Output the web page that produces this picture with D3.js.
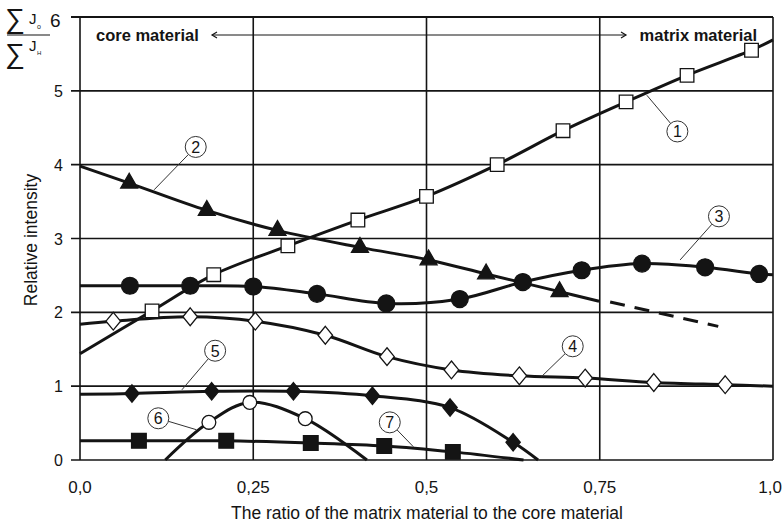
<!DOCTYPE html>
<html>
<head>
<meta charset="utf-8">
<script src="https://cdn.jsdelivr.net/npm/d3@7"></script>
<style>
  html, body { margin: 0; padding: 0; background: #fff; }
  svg { display: block; font-family: "Liberation Sans", Arial, sans-serif; }
</style>
</head>
<body>
<svg id="chart" width="783" height="522"></svg>
<script>
// Axis ticks
const xTicks = [0, 0.25, 0.5, 0.75, 1.0];
const xTickLabels = ["0,0", "0,25", "0,5", "0,75", "1,0"];
const yTicks = [0, 1, 2, 3, 4, 5, 6];

// Series 1 – open squares
const s1X = [0.104, 0.193, 0.300, 0.401, 0.500, 0.602, 0.697, 0.788, 0.876, 0.969];
const s1Y = [2.02, 2.51, 2.90, 3.25, 3.57, 4.00, 4.46, 4.85, 5.21, 5.55];
const s1Ends = [[0, 1.44], [1.0, 5.69]];

// Series 2 – filled triangles (solid part, then dashed extension)
const s2X = [0.071, 0.183, 0.285, 0.404, 0.503, 0.586, 0.692];
const s2Y = [3.75, 3.38, 3.11, 2.88, 2.71, 2.52, 2.28];
const s2Ends = [[0, 3.98], [0.749, 2.15]];
const s2Dashed = [[0.765, 2.14], [0.921, 1.81]];

// Series 3 – filled circles
const s3X = [0.072, 0.159, 0.250, 0.342, 0.442, 0.548, 0.639, 0.724, 0.811, 0.902, 0.980];
const s3Y = [2.36, 2.36, 2.35, 2.25, 2.12, 2.18, 2.41, 2.57, 2.66, 2.61, 2.52];
const s3Ends = [[0, 2.36], [1.0, 2.51]];

// Series 4 – open diamonds
const s4X = [0.048, 0.159, 0.253, 0.354, 0.443, 0.536, 0.634, 0.729, 0.828, 0.931];
const s4Y = [1.88, 1.94, 1.88, 1.69, 1.40, 1.22, 1.14, 1.11, 1.05, 1.02];
const s4Ends = [[0, 1.84], [1.0, 1.00]];

// Series 5 – filled diamonds
const s5X = [0.075, 0.190, 0.308, 0.422, 0.534, 0.625];
const s5Y = [0.90, 0.93, 0.93, 0.87, 0.71, 0.24];
const s5Ends = [[0, 0.89], [0.661, 0]];

// Series 6 – open circles
const s6X = [0.186, 0.245, 0.325];
const s6Y = [0.51, 0.78, 0.56];
const s6Ends = [[0.123, 0], [0.414, 0]];

// Series 7 – filled squares
const s7X = [0.085, 0.211, 0.333, 0.439, 0.538];
const s7Y = [0.26, 0.26, 0.23, 0.19, 0.11];
const s7Ends = [[0, 0.26], [0.640, 0]];

// Numbered callouts: label, circle centre, point on the curve (data units)
const callouts = [
  {n: "1", c: [0.862, 4.45], p: [0.818, 4.94]},
  {n: "2", c: [0.167, 4.24], p: [0.107, 3.66]},
  {n: "3", c: [0.922, 3.30], p: [0.866, 2.71]},
  {n: "4", c: [0.711, 1.54], p: [0.666, 1.13]},
  {n: "5", c: [0.195, 1.48], p: [0.147, 0.95]},
  {n: "6", c: [0.113, 0.565], p: [0.168, 0.41]},
  {n: "7", c: [0.447, 0.51], p: [0.481, 0.18]}
];

const ink = "#141414";
const svg = d3.select("#chart");
const x = d3.scaleLinear().domain([0, 1]).range([80, 773]);
const y = d3.scaleLinear().domain([0, 6]).range([460, 17]);

// ---- grid & frame ----
const grid = svg.append("g").attr("stroke", ink);
grid.selectAll("line.h").data(yTicks).join("line")
  .attr("x1", 71).attr("x2", x(1))
  .attr("y1", d => y(d)).attr("y2", d => y(d))
  .attr("stroke-width", d => d === 6 ? 2.2 : 1.6);
grid.selectAll("line.v").data(xTicks).join("line")
  .attr("x1", d => x(d)).attr("x2", d => x(d))
  .attr("y1", y(6)).attr("y2", y(0))
  .attr("stroke-width", 1.6);

// ---- tick labels ----
svg.append("g").selectAll("text").data(yTicks.filter(d => d < 6)).join("text")
  .attr("x", 63).attr("y", d => y(d) + 6)
  .attr("text-anchor", "end").attr("font-size", 16).attr("fill", ink)
  .text(d => d);
svg.append("text").attr("x", 50).attr("y", 27)
  .attr("font-size", 19).attr("fill", ink).text("6");

// the last x label sits flush with the right edge of the page
svg.append("g").selectAll("text").data(xTicks).join("text")
  .attr("x", (d, i) => i === xTicks.length - 1 ? 782 : x(d)).attr("y", 493)
  .attr("text-anchor", (d, i) => i === xTicks.length - 1 ? "end" : "middle")
  .attr("font-size", 17).attr("fill", ink)
  .text((d, i) => xTickLabels[i]);

svg.append("text").attr("x", 427).attr("y", 519)
  .attr("text-anchor", "middle").attr("font-size", 17.5).attr("fill", ink)
  .text("The ratio of the matrix material to the core material");

svg.append("text")
  .attr("transform", "translate(37,240) rotate(-90)")
  .attr("text-anchor", "middle").attr("font-size", 17.5).attr("fill", ink)
  .text("Relative intensity");

// ---- ratio formula in the corner ----
const f = svg.append("g").attr("fill", ink);
f.append("text").attr("x", 5).attr("y", 28).attr("font-size", 28).text("∑");
f.append("text").attr("x", 29).attr("y", 24).attr("font-size", 15).text("J");
f.append("text").attr("x", 37).attr("y", 29).attr("font-size", 7).text("o");
f.append("line").attr("x1", 7).attr("x2", 50).attr("y1", 35).attr("y2", 35)
  .attr("stroke", ink).attr("stroke-width", 1.2);
f.append("text").attr("x", 5).attr("y", 63).attr("font-size", 28).text("∑");
f.append("text").attr("x", 29).attr("y", 51).attr("font-size", 15).text("J");
f.append("text").attr("x", 37).attr("y", 55).attr("font-size", 6).text("H");

// ---- header: core ← → matrix ----
svg.append("text").attr("x", 96).attr("y", 41).attr("font-size", 16.5)
  .attr("font-weight", "bold").attr("fill", ink).text("core material");
svg.append("text").attr("x", 757).attr("y", 41).attr("font-size", 16.5)
  .attr("text-anchor", "end").attr("font-weight", "bold").attr("fill", ink)
  .text("matrix material");
const ay = 35;
svg.append("line").attr("x1", 212).attr("x2", 626).attr("y1", ay).attr("y2", ay)
  .attr("stroke", ink).attr("stroke-width", 1);
svg.append("path").attr("d", `M217,${ay - 3}L212,${ay}L217,${ay + 3}`)
  .attr("fill", "none").attr("stroke", ink).attr("stroke-width", 1.2);
svg.append("path").attr("d", `M621,${ay - 3}L626,${ay}L621,${ay + 3}`)
  .attr("fill", "none").attr("stroke", ink).attr("stroke-width", 1.2);

// ---- curves ----
const line = d3.line().x(d => x(d[0])).y(d => y(d[1])).curve(d3.curveCatmullRom.alpha(0.5));
function pts(xs, ys, ends) {
  return [ends[0], ...xs.map((v, i) => [v, ys[i]]), ends[1]];
}
// tall diamond used by series 4 and 5
const tallDiamond = {
  draw(ctx, size) {
    const h = Math.sqrt(size) * 0.78, w = h * 0.82;
    ctx.moveTo(0, -h); ctx.lineTo(w, 0); ctx.lineTo(0, h); ctx.lineTo(-w, 0); ctx.closePath();
  }
};
const seriesList = [
  {xs: s1X, ys: s1Y, ends: s1Ends, sym: d3.symbolSquare, size: 185, fill: "#fff"},
  {xs: s2X, ys: s2Y, ends: s2Ends, sym: d3.symbolTriangle, size: 125, fill: ink},
  {xs: s3X, ys: s3Y, ends: s3Ends, sym: d3.symbolCircle, size: 225, fill: ink},
  {xs: s4X, ys: s4Y, ends: s4Ends, sym: tallDiamond, size: 130, fill: "#fff"},
  {xs: s5X, ys: s5Y, ends: s5Ends, sym: tallDiamond, size: 125, fill: ink},
  {xs: s6X, ys: s6Y, ends: s6Ends, sym: d3.symbolCircle, size: 150, fill: "#fff"},
  {xs: s7X, ys: s7Y, ends: s7Ends, sym: d3.symbolSquare, size: 215, fill: ink}
];

const curves = svg.append("g").attr("fill", "none").attr("stroke", ink)
  .attr("stroke-width", 3).attr("stroke-linejoin", "round");
seriesList.forEach(s => curves.append("path").attr("d", line(pts(s.xs, s.ys, s.ends))));
curves.append("path")
  .attr("d", d3.line().x(d => x(d[0])).y(d => y(d[1]))(s2Dashed))
  .attr("stroke-dasharray", "15,10");

// ---- callout leaders & circles ----
const cg = svg.append("g");
const R = 10.5;
callouts.forEach(c => {
  const cx = x(c.c[0]), cy = y(c.c[1]), px = x(c.p[0]), py = y(c.p[1]);
  const dx = px - cx, dy = py - cy, L = Math.hypot(dx, dy);
  cg.append("line")
    .attr("x1", cx + dx / L * R).attr("y1", cy + dy / L * R)
    .attr("x2", px).attr("y2", py)
    .attr("stroke", "#333").attr("stroke-width", 1);
  cg.append("circle").attr("cx", cx).attr("cy", cy).attr("r", R)
    .attr("fill", "#fff").attr("stroke", "#333").attr("stroke-width", 1);
  cg.append("text").attr("x", cx).attr("y", cy + 6).attr("text-anchor", "middle")
    .attr("font-size", 16).attr("fill", ink).text(c.n);
});

// ---- markers ----
seriesList.forEach(s => {
  svg.append("g").selectAll("path").data(s.xs.map((v, i) => [v, s.ys[i]])).join("path")
    .attr("transform", d => `translate(${x(d[0])},${y(d[1])})`)
    .attr("d", d3.symbol().type(s.sym).size(s.size))
    .attr("fill", s.fill).attr("stroke", ink).attr("stroke-width", 1.3);
});
</script>
</body>
</html>
